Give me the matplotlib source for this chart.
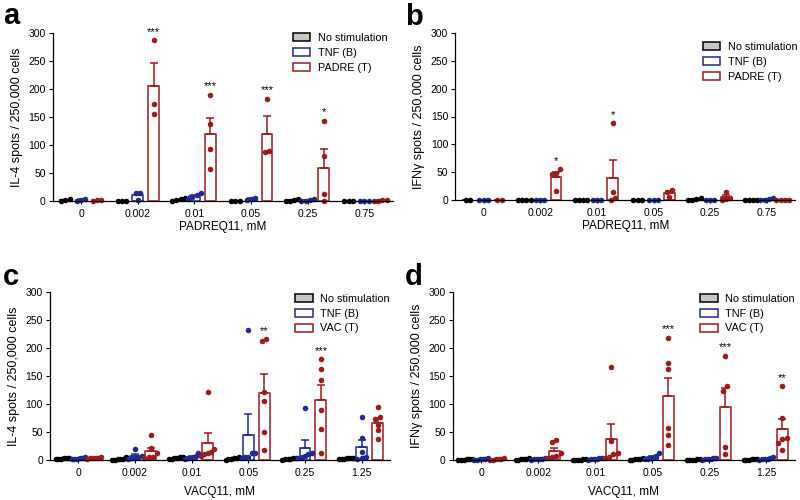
import matplotlib.pyplot as plt
from matplotlib.patches import Patch
import numpy as np

plt.rcParams['font.family'] = ['Liberation Sans', 'DejaVu Sans']

doses_padre = ['0', '0.002', '0.01', '0.05', '0.25', '0.75']
doses_vac = ['0', '0.002', '0.01', '0.05', '0.25', '1.25']

# spots / 250,000 cells, one list of wells per dose
a_none = [[0, 1, 3], [0, 0, 0], [0, 1, 3, 5], [0, 0, 0], [0, 0, 2, 4], [0, 0, 0]]
a_tnf = [[0, 2, 4], [14, 14, 2], [4, 8, 10, 14], [2, 6, 3], [0, 0, 2, 3], [0, 0, 0]]
a_padre = [[0, 1, 2], [287, 174, 156], [190, 138, 92, 57], [183, 88, 89], [143, 81, 12, 0], [0, 0, 1, 2]]
a_stars = ['', '***', '***', '***', '*', '']

b_none = [[0, 0], [0, 0, 0, 0], [0, 0, 0, 0], [0, 0, 0], [0, 0, 2, 4], [0, 0, 0, 0]]
b_tnf = [[0, 0, 0], [0, 0, 0], [0, 0, 0], [0, 0, 0], [0, 0, 0], [0, 0, 2, 3]]
b_padre = [[0, 0], [55, 48, 46, 17], [138, 14, 3, 0], [18, 15, 6], [14, 4, 2, 0], [0, 0, 0, 0]]
b_stars = ['', '*', '*', '', '', '']

c_none = [[2, 3, 4, 1, 3, 2], [0, 0, 1, 2, 5, 1], [1, 2, 3, 4, 5, 6], [2, 1, 3, 4, 0, 6], [0, 1, 2, 3, 3, 1], [1, 2, 2, 3, 3, 4]]
c_tnf = [[2, 3, 4, 5, 1, 2], [20, 8, 6, 5, 4, 2], [12, 8, 6, 4, 3, 2], [233, 12, 12, 5, 5, 3], [92, 12, 10, 8, 5, 3], [76, 40, 15, 5, 3, 2]]
c_vac = [[3, 4, 6, 2, 3, 3], [45, 22, 12, 6, 5, 4], [121, 20, 15, 12, 10, 8], [216, 213, 121, 105, 50, 18], [180, 163, 142, 90, 55, 13], [95, 76, 74, 62, 53, 38]]
c_stars = ['', '', '', '**', '***', '']

d_none = [[0, 1, 0, 1, 2, 0], [0, 1, 2, 3, 0, 1], [0, 0, 1, 1, 0, 0], [0, 1, 2, 3, 0, 1], [0, 0, 1, 1, 0, 0], [0, 0, 1, 1, 0, 2]]
d_tnf = [[0, 1, 2, 3, 0, 1], [0, 1, 2, 3, 2, 1], [0, 1, 2, 3, 4, 1], [12, 8, 5, 3, 2, 1], [0, 1, 2, 3, 4, 1], [0, 1, 2, 3, 5, 2]]
d_vac = [[0, 1, 2, 3, 0, 1], [35, 32, 12, 8, 6, 3], [166, 34, 12, 10, 5, 3], [218, 173, 163, 58, 44, 26], [186, 132, 124, 23, 11], [132, 75, 40, 38, 30, 17]]
d_stars = ['', '', '', '***', '***', '**']

BLUE = '#1f2a94'
RED = '#a3191c'
GRAY = '#c6c6c6'


def swarm(vals, tol=9, step=0.075, maxw=0.12):
    # spread points with similar values sideways, like prism does
    vals = np.asarray(vals, dtype=float)
    order = np.argsort(vals)
    offs = np.zeros(len(vals))
    clusters = [[order[0]]]
    for k in order[1:]:
        if vals[k] - vals[clusters[-1][-1]] < tol:
            clusters[-1].append(k)
        else:
            clusters.append([k])
    for cl in clusters:
        n = len(cl)
        if n == 1:
            continue
        st = min(step, 2 * maxw / (n - 1))
        o = st * (np.arange(n) - (n - 1) / 2)
        for k, v in zip(cl, o):
            offs[k] = v
    return offs


def panel(ax, none, tnf, treat, stars, doses, ylabel, xlabel, names, leg_xy, xpad):
    series = [(none, 'black', GRAY, 'black'),
              (tnf, BLUE, 'white', BLUE),
              (treat, RED, 'white', RED)]
    for j, (groups, edge, face, dot) in enumerate(series):
        off = (j - 1) * 0.28
        for i, vals in enumerate(groups):
            m = np.mean(vals)
            sem = np.std(vals, ddof=1) / np.sqrt(len(vals))
            ax.bar(i + off, m, width=0.19, facecolor=face, edgecolor=edge,
                   lw=1.1, zorder=2, clip_on=False)
            if sem > 0:
                ax.errorbar(i + off, m, yerr=[[0], [sem]], color=edge, lw=1.1,
                            capsize=3, capthick=1.1, zorder=3)
            ax.scatter(i + off + swarm(vals), vals, s=16, color=dot, lw=0,
                       zorder=4, clip_on=False)
    for i, s in enumerate(stars):
        if s:
            top = max(treat[i])
            ax.text(i + 0.28, top + 6, s, ha='center', va='bottom', fontsize=8)

    ax.set_xlim(-0.5, 5.5)
    ax.set_ylim(0, 300)
    ax.set_yticks(range(0, 301, 50))
    ax.set_xticks(range(6))
    ax.set_xticklabels(doses)
    ax.tick_params(axis='both', direction='out', length=3, width=0.8, labelsize=7.5, pad=2)
    ax.tick_params(axis='x', length=2.5, pad=3)
    for sp in ['top', 'right']:
        ax.spines[sp].set_visible(False)
    for sp in ['left', 'bottom']:
        ax.spines[sp].set_linewidth(0.9)
        ax.spines[sp].set_zorder(5)
    ax.set_ylabel(ylabel, fontsize=9, labelpad=4)
    ax.set_xlabel(xlabel, fontsize=8.5, labelpad=xpad)

    handles = [Patch(facecolor=GRAY, edgecolor='black', lw=1.1),
               Patch(facecolor='white', edgecolor=BLUE, lw=1.1),
               Patch(facecolor='white', edgecolor=RED, lw=1.1)]
    ax.legend(handles, names, loc='upper right', bbox_to_anchor=leg_xy,
              frameon=False, fontsize=7.8, handlelength=1.6, handleheight=0.75,
              handletextpad=0.7, labelspacing=0.45, borderaxespad=0, borderpad=0)


fig = plt.figure(figsize=(8, 5), dpi=100)
ax_a = fig.add_axes([0.066, 0.598, 0.425, 0.336])
ax_b = fig.add_axes([0.569, 0.600, 0.425, 0.334])
ax_c = fig.add_axes([0.0625, 0.080, 0.425, 0.336])
ax_d = fig.add_axes([0.566, 0.080, 0.4275, 0.336])

panel(ax_a, a_none, a_tnf, a_padre, a_stars, doses_padre,
      'IL-4 spots / 250,000 cells', 'PADREQ11, mM',
      ['No stimulation', 'TNF (B)', 'PADRE (T)'], (0.985, 1.0), 2)
panel(ax_b, b_none, b_tnf, b_padre, b_stars, doses_padre,
      'IFNγ spots / 250,000 cells', 'PADREQ11, mM',
      ['No stimulation', 'TNF (B)', 'PADRE (T)'], (1.006, 0.946), 2)
panel(ax_c, c_none, c_tnf, c_vac, c_stars, doses_vac,
      'IL-4 spots / 250,000 cells', 'VACQ11, mM',
      ['No stimulation', 'TNF (B)', 'VAC (T)'], (1.0, 0.99), 6)
panel(ax_d, d_none, d_tnf, d_vac, d_stars, doses_vac,
      'IFNγ spots / 250,000 cells', 'VACQ11, mM',
      ['No stimulation', 'TNF (B)', 'VAC (T)'], (1.0, 0.99), 6)

for letter, x, y in [('a', 3, 24), ('b', 405, 25), ('c', 3, 285), ('d', 405, 285)]:
    fig.text(x / 800, 1 - y / 500, letter, fontsize=21, fontweight='bold',
             ha='left', va='baseline')

fig.savefig('out.png', dpi=100)
